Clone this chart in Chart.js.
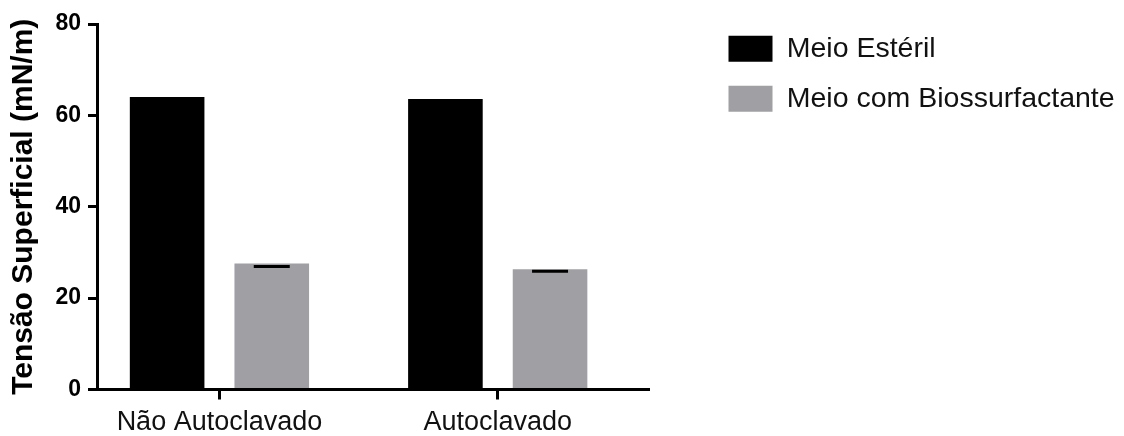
<!DOCTYPE html>
<html>
<head>
<meta charset="utf-8">
<script src="https://cdn.jsdelivr.net/npm/chart.js@4"></script>
<style>
  body { margin: 0; background: #fff; }
  #wrap { width: 1124px; height: 436px; }
</style>
</head>
<body>
<div id="wrap"><canvas id="chart" width="1124" height="436"></canvas></div>
<script>
// values
var categories = ['Não Autoclavado', 'Autoclavado'];
var seriesNames = ['Meio Estéril', 'Meio com Biossurfactante'];
var esteril = [64.0, 63.6];
var biossurf = [27.6, 26.3];
var biossurfErr = [0.7, 0.4];
var yTicks = [0, 20, 40, 60, 80];

var FONT = "'Liberation Sans', Arial, sans-serif";

function toPoints(arr) {
  return arr.map(function (v, i) { return { x: i, y: v }; });
}

// small error caps on the grey bars (drawn below the bar top, as in the picture)
var errorCaps = {
  id: 'errorCaps',
  afterDatasetsDraw: function (chart) {
    var meta = chart.getDatasetMeta(1);
    var y = chart.scales.y;
    var ctx = chart.ctx;
    ctx.save();
    ctx.strokeStyle = '#000';
    ctx.lineWidth = 3;
    meta.data.forEach(function (bar, i) {
      var py = y.getPixelForValue(biossurf[i] - biossurfErr[i]);
      ctx.beginPath();
      ctx.moveTo(bar.x - 18, py);
      ctx.lineTo(bar.x + 18, py);
      ctx.stroke();
    });
    ctx.restore();
  }
};

var ctx = document.getElementById('chart').getContext('2d');
var chart = new Chart(ctx, {
  type: 'bar',
  data: {
    datasets: [{
      label: seriesNames[0],
      data: toPoints(esteril),
      backgroundColor: '#000000',
      borderWidth: 0
    }, {
      label: seriesNames[1],
      data: toPoints(biossurf),
      backgroundColor: '#a0a0a4',
      borderWidth: 0
    }]
  },
  options: {
    responsive: false,
    devicePixelRatio: 1,
    animation: false,
    categoryPercentage: 0.752,
    barPercentage: 0.713,
    layout: { padding: { left: 6, top: 13, right: 4, bottom: 0 } },
    plugins: {
      tooltip: { enabled: false },
      legend: {
        position: 'right',
        align: 'start',
        maxWidth: 413,
        labels: {
          boxWidth: 44,
          boxHeight: 26,
          padding: 21.5,
          color: '#111',
          font: { family: FONT, size: 28.5 }
        }
      }
    },
    scales: {
      x: {
        type: 'linear',
        min: -0.44,
        max: 1.54,
        offset: false,
        afterBuildTicks: function (scale) {
          scale.ticks = categories.map(function (c, i) { return { value: i }; });
        },
        afterFit: function (scale) { scale.height = 46.5; },
        ticks: {
          color: '#111',
          padding: 10,
          font: { family: FONT, size: 27, lineHeight: 1 },
          callback: function (value) { return categories[value]; }
        },
        grid: {
          offset: false,
          drawOnChartArea: false,
          tickLength: 10,
          lineWidth: 3,
          color: '#000'
        },
        border: { display: true, color: '#000', width: 3 }
      },
      y: {
        min: 0,
        max: 80,
        afterBuildTicks: function (scale) {
          scale.ticks = yTicks.map(function (v) { return { value: v }; });
        },
        afterFit: function (scale) { scale.width = 91; },
        ticks: {
          color: '#000',
          padding: 7,
          font: { family: FONT, size: 23, weight: 'bold', lineHeight: 1.48 }
        },
        grid: {
          drawOnChartArea: false,
          tickLength: 9,
          lineWidth: 3,
          color: '#000'
        },
        border: { display: true, color: '#000', width: 3 },
        title: {
          display: true,
          text: 'Tensão Superficial (mN/m)',
          color: '#000',
          padding: { top: 0, bottom: 12 },
          font: { family: FONT, size: 30, weight: 'bold', lineHeight: 1.2 }
        }
      },
      // empty right-hand axis: only keeps the gap between the plot and the legend
      gap: {
        position: 'right',
        display: true,
        grid: { display: false },
        border: { display: false },
        ticks: { display: false },
        afterFit: function (scale) { scale.width = 59; }
      }
    }
  },
  plugins: [errorCaps]
});
</script>
</body>
</html>
